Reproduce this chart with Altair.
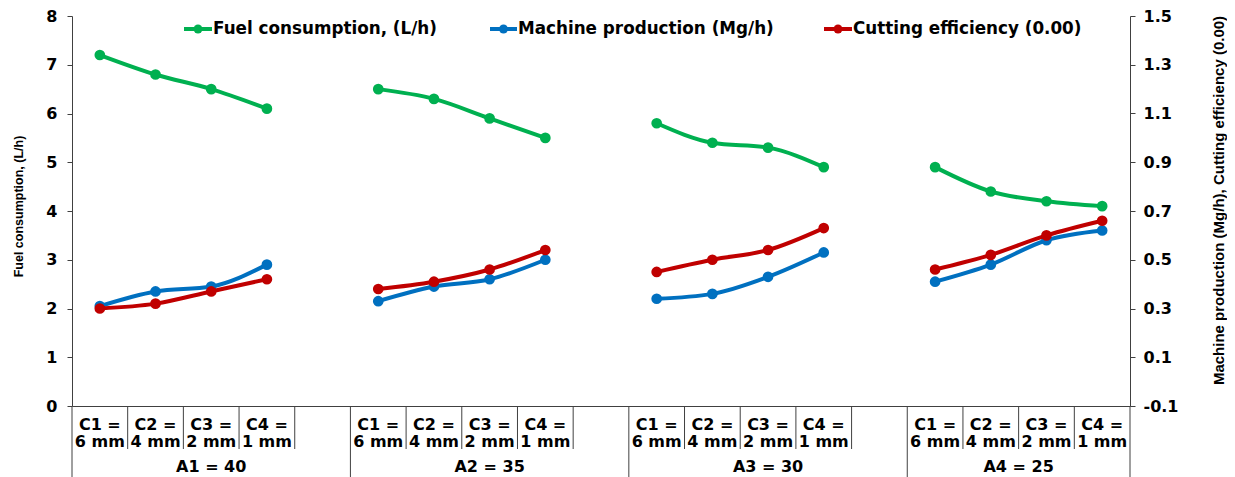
import altair as alt
import pandas as pd

# ---------------- data ----------------
groups = ["A1 = 40", "A2 = 35", "A3 = 30", "A4 = 25"]
cut_top = ["C1 =", "C2 =", "C3 =", "C4 ="]
cut_bottom = ["6 mm", "4 mm", "2 mm", "1 mm"]
series_names = ["Fuel consumption, (L/h)", "Machine production (Mg/h)", "Cutting efficiency (0.00)"]
series_colors = ["#00B050", "#0070C0", "#C00000"]

fuel = [7.2, 6.8, 6.5, 6.1, 6.5, 6.3, 5.9, 5.5, 5.8, 5.4, 5.3, 4.9, 4.9, 4.4, 4.2, 4.1]
production = [0.31, 0.37, 0.39, 0.48, 0.33, 0.39, 0.42, 0.50, 0.34, 0.36, 0.43, 0.53, 0.41, 0.48, 0.58, 0.62]
efficiency = [0.30, 0.32, 0.37, 0.42, 0.38, 0.41, 0.46, 0.54, 0.45, 0.50, 0.54, 0.63, 0.46, 0.52, 0.60, 0.66]

left_ticks = [0, 1, 2, 3, 4, 5, 6, 7, 8]
right_ticks = [-0.1, 0.1, 0.3, 0.5, 0.7, 0.9, 1.1, 1.3, 1.5]

# ---------------- layout ----------------
W, H = 1058, 390
SLOTS = 19                      # 4 groups x (4 cuts + gap), last group without gap
group_start = [0, 5, 10, 15]
group_end = [5, 10, 15, 19]
AXIS_COLOR = "#404040"
TICK_FONT = "DejaVu Sans"
TITLE_FONT = "Liberation Sans"

rows = []
for i in range(len(fuel)):
    g, c = divmod(i, 4)
    slot = group_start[g] + c + 0.5
    rows.append({"slot": slot, "group": groups[g], "series": series_names[0], "value": fuel[i]})
    rows.append({"slot": slot, "group": groups[g], "series": series_names[1], "value": production[i]})
    rows.append({"slot": slot, "group": groups[g], "series": series_names[2], "value": efficiency[i]})
df = pd.DataFrame(rows)

cut_rows = []
for g in range(len(groups)):
    for c in range(len(cut_top)):
        cut_rows.append({"slot": group_start[g] + c + 0.5, "top": cut_top[c], "bottom": cut_bottom[c]})
cut_df = pd.DataFrame(cut_rows)
grp_df = pd.DataFrame({"slot": [(s + e) / 2 for s, e in zip(group_start, group_end)], "label": groups})

long_df = pd.DataFrame({"slot": group_start + [SLOTS]})
short_slots = []
for g in range(len(groups)):
    for c in range(1, 5):
        b = group_start[g] + c
        if b < SLOTS:
            short_slots.append(b)
short_df = pd.DataFrame({"slot": short_slots})

legend_df = pd.DataFrame({
    "series": series_names,
    "x0": [112, 418, 752],
    "x1": [140, 445, 780],
    "xp": [126, 431.5, 766],
    "xt": [141, 446, 781],
})

xscale = alt.Scale(domain=[0, SLOTS], nice=False, zero=False)
xaxis = alt.Axis(labels=False, ticks=False, grid=False, title=None, domain=True,
                 domainColor=AXIS_COLOR, domainWidth=1)
X = alt.X("slot:Q", scale=xscale, axis=xaxis)
color = alt.Color("series:N", scale=alt.Scale(domain=series_names, range=series_colors), legend=None)

Y_left = alt.Y("value:Q",
               scale=alt.Scale(domain=[0, 8], nice=False, zero=False),
               axis=alt.Axis(orient="left", values=left_ticks, grid=False, tickSize=5,
                             labelPadding=10, title="Fuel consumption, (L/h)",
                             titleX=-54, titleY=190, titleAngle=270, titleAlign="center",
                             titleBaseline="middle", titleFont=TITLE_FONT, titleFontSize=12.5,
                             titleFontWeight="bold", titleColor="black"))
Y_right = alt.Y("value:Q",
                scale=alt.Scale(domain=[-0.1, 1.5], nice=False, zero=False),
                axis=alt.Axis(orient="right", values=right_ticks, grid=False,
                              labelExpr="datum.value < 0 ? '-' + format(-datum.value, '.1f') : format(datum.value, '.1f')",
                              tickSize=5, labelPadding=8,
                              title="Machine production (Mg/h), Cutting efficiency (0.00)",
                              titleX=88, titleY=184, titleAngle=270, titleAlign="center",
                              titleBaseline="middle", titleFont=TITLE_FONT, titleFontSize=15,
                              titleFontWeight="bold", titleColor="black"))


def series_layers(name, Y):
    base = alt.Chart(df).transform_filter(alt.datum.series == name)
    line = base.mark_line(strokeWidth=4, interpolate="monotone").encode(
        x=X, y=Y, color=color, detail="group:N")
    pts = base.mark_circle(size=115, opacity=1).encode(x=X, y=Y, color=color)
    return [line, pts]


left = alt.layer(*series_layers(series_names[0], Y_left))
right = alt.layer(*series_layers(series_names[1], Y_right), *series_layers(series_names[2], Y_right))

long_rules = alt.Chart(long_df).mark_rule(color=AXIS_COLOR, strokeWidth=1).encode(
    x=X, y=alt.value(H), y2=alt.value(475))
short_rules = alt.Chart(short_df).mark_rule(color=AXIS_COLOR, strokeWidth=1).encode(
    x=X, y=alt.value(H), y2=alt.value(433))

txt = dict(font=TICK_FONT, fontWeight="bold", fontSize=16, color="black", baseline="middle", align="center")
cut1 = alt.Chart(cut_df).mark_text(**txt).encode(x=X, y=alt.value(409), text="top:N")
cut2 = alt.Chart(cut_df).mark_text(**txt).encode(x=X, y=alt.value(426), text="bottom:N")
grp = alt.Chart(grp_df).mark_text(**txt).encode(x=X, y=alt.value(451), text="label:N")

leg_line = alt.Chart(legend_df).mark_rule(strokeWidth=4).encode(
    x=alt.X("x0:Q", scale=None), x2="x1:Q", y=alt.value(13), color=color)
leg_pt = alt.Chart(legend_df).mark_circle(size=80, opacity=1).encode(
    x=alt.X("xp:Q", scale=None), y=alt.value(13), color=color)
leg_txt = alt.Chart(legend_df).mark_text(font=TICK_FONT, fontWeight="bold", fontSize=16.8,
                                         color="black", baseline="middle", align="left").encode(
    x=alt.X("xt:Q", scale=None), y=alt.value(13), text="series:N")

chart = alt.layer(
    long_rules, short_rules, left, right, cut1, cut2, grp, leg_line, leg_pt, leg_txt
).resolve_scale(y="independent").properties(
    width=W, height=H,
    autosize=alt.AutoSizeParams(type="none"),
    padding={"left": 64, "top": 8, "right": 97, "bottom": 71},
).configure_view(stroke=None).configure_axis(
    domainColor=AXIS_COLOR, tickColor=AXIS_COLOR, labelColor="black",
    labelFont=TICK_FONT, labelFontWeight="bold", labelFontSize=16,
)

chart.save("out.html", embed_options={"renderer": "svg", "actions": False})
